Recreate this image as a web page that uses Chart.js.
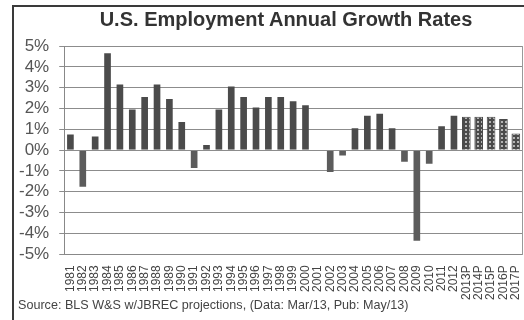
<!DOCTYPE html>
<html>
<head>
<meta charset="utf-8">
<script src="https://cdn.jsdelivr.net/npm/chart.js@4/dist/chart.umd.min.js"></script>
<style>
  html, body { margin: 0; padding: 0; background: #fff; overflow: hidden; }
  #wrap { position: relative; width: 524px; height: 320px; overflow: hidden; font-family: "Liberation Sans", Arial, sans-serif; }
  #frame { position: absolute; left: 12px; top: 5px; right: -20px; bottom: -20px; border: 2px solid #3a3a3a; }
  #title { position: absolute; left: 48px; width: 476px; top: 8px; text-align: center; font-weight: bold; font-size: 20px; color: #333; }
  #source { position: absolute; left: 18px; top: 298px; font-size: 12.6px; color: #444; white-space: nowrap; }
  #growthChart { position: absolute; left: 0; top: 0; }
</style>
</head>
<body>
<div id="wrap">
  <div id="frame"></div>
  <canvas id="growthChart" width="524" height="320"></canvas>
  <div id="title">U.S. Employment Annual Growth Rates</div>
  <div id="source">Source: BLS W&amp;S w/JBREC projections, (Data: Mar/13, Pub: May/13)</div>
</div>
<script>
// --- Data: annual % change in employment ---
const years = [
  "1981", "1982", "1983", "1984", "1985", "1986", "1987", "1988", "1989", "1990",
  "1991", "1992", "1993", "1994", "1995", "1996", "1997", "1998", "1999", "2000",
  "2001", "2002", "2003", "2004", "2005", "2006", "2007", "2008", "2009", "2010",
  "2011", "2012"
];
const growth = [
  0.8, -1.8, 0.7, 4.7, 3.2, 2.0, 2.6, 3.2, 2.5, 1.4,
  -0.9, 0.3, 2.0, 3.1, 2.6, 2.1, 2.6, 2.6, 2.4, 2.2,
  0.0, -1.1, -0.3, 1.1, 1.7, 1.8, 1.1, -0.6, -4.4, -0.7,
  1.2, 1.7
];
const projYears = ["2013P", "2014P", "2015P", "2016P", "2017P"];
const projected = [1.6, 1.6, 1.6, 1.5, 0.8];
const yTicks = [-5, -4, -3, -2, -1, 0, 1, 2, 3, 4, 5];

const labels = years.concat(projYears);
const values = growth.concat(projected);

// dotted fill for the projection years
function makeDots() {
  const c = document.createElement("canvas");
  c.width = 4;
  c.height = 4;
  const g = c.getContext("2d");
  g.fillStyle = "#4a4a4a";
  g.fillRect(0, 0, 4, 4);
  g.fillStyle = "#b4b4b4";
  g.fillRect(1, 1, 2, 2);
  return g.createPattern(c, "repeat");
}
const dots = makeDots();

const barColors = values.map((v, i) => {
  if (i >= years.length) return dots;
  return v < 0 ? "#5c5c5c" : "#4b4b4b";
});

new Chart(document.getElementById("growthChart"), {
  type: "bar",
  data: {
    labels,
    datasets: [{
      data: values,
      backgroundColor: barColors,
      borderColor: values.map((_, i) => (i >= years.length ? "#4a4a4a" : "rgba(0,0,0,0)")),
      borderWidth: 1,
      categoryPercentage: 1,
      barPercentage: 0.7,
    }],
  },
  options: {
    responsive: false,
    animation: false,
    layout: { padding: { top: 46, right: 2, bottom: 17, left: 9 } },
    plugins: {
      legend: { display: false },
      tooltip: { enabled: false },
    },
    scales: {
      x: {
        grid: { display: false },
        border: { display: true, color: "#888" },
        afterFit: (scale) => { scale.paddingLeft = 0; scale.paddingRight = 0; },
        ticks: {
          autoSkip: false,
          minRotation: 90,
          maxRotation: 90,
          padding: 3,
          color: "#444",
          font: { family: "Liberation Sans", size: 12 },
        },
      },
      y: {
        min: -5,
        max: 5,
        afterBuildTicks: (axis) => { axis.ticks = yTicks.map((v) => ({ value: v })); },
        afterFit: (scale) => { scale.paddingTop = 0; scale.paddingBottom = 0; },
        grid: { color: "#8c8c8c", tickLength: 5 },
        border: { color: "#888" },
        ticks: {
          autoSkip: false,
          padding: 10,
          color: "#555",
          font: { family: "Liberation Sans", size: 17 },
          callback: (v) => v + "%",
        },
      },
      // thin closing line on the right edge of the plot
      yRight: {
        position: "right",
        min: -5,
        max: 5,
        afterFit: (scale) => { scale.width = 0; scale.paddingTop = 0; scale.paddingBottom = 0; },
        grid: { display: false },
        border: { display: true, color: "#999" },
        ticks: { display: false },
      },
    },
  },
});
</script>
</body>
</html>
